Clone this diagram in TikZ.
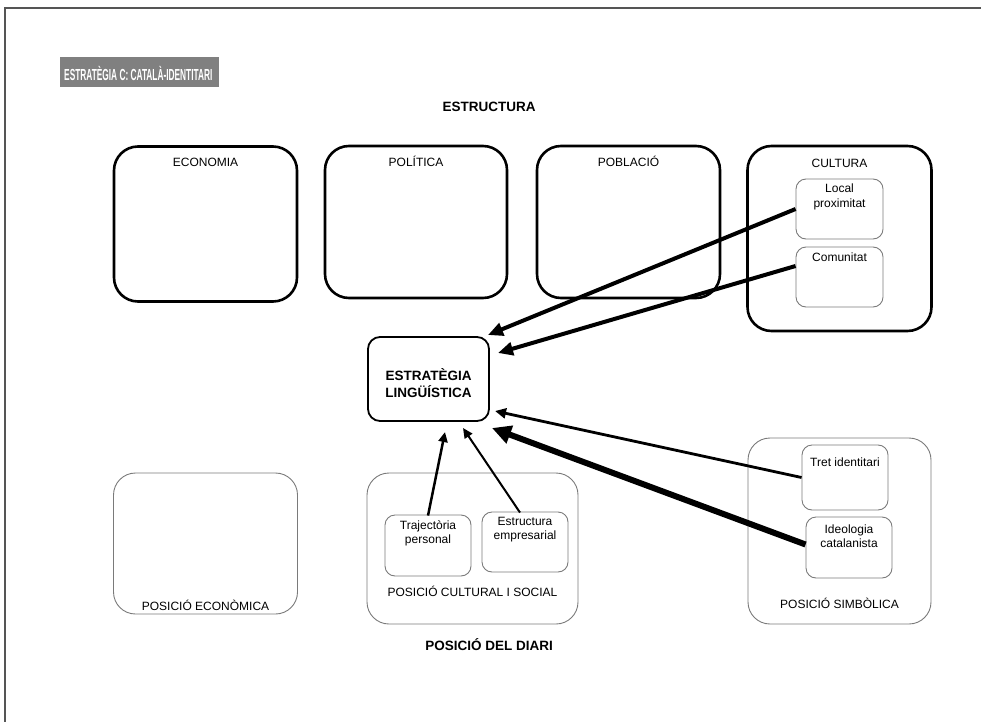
\documentclass[tikz,border=0pt]{standalone}
\usepackage{fontspec}
\setmainfont{Liberation Sans}
\usetikzlibrary{arrows.meta}
\definecolor{bargray}{HTML}{808080}
\definecolor{thingray}{HTML}{7A7A7A}
\definecolor{framegray}{HTML}{555555}
\begin{document}
\begin{tikzpicture}[x=1pt,y=-1pt,
  thickbox/.style={draw=black, line width=2.6pt, rounded corners=24pt, inner sep=0pt},
  midbox/.style={draw=black, line width=1.8pt, rounded corners=12pt, inner sep=0pt},
  thinbox/.style={draw=thingray, line width=0.9pt, rounded corners=22pt, inner sep=0pt},
  smallbox/.style={draw=thingray, line width=0.9pt, rounded corners=10pt, inner sep=0pt},
  lbl/.style={inner sep=0pt, align=center, font=\fontsize{12}{14.5}\selectfont},
  head/.style={inner sep=0pt, align=center, font=\fontsize{13.5}{17}\selectfont\bfseries},
  arr/.style={line width=#1}
]
\useasboundingbox (0,0) rectangle (981,722);
% page frame
\draw[line width=1.2pt, framegray] (981,8) -- (5,8) -- (5,722);
% title bar
\node[fill=bargray, minimum width=159pt, minimum height=30pt, anchor=north west, inner sep=0pt] (title) at (60,57) {};
\node[anchor=west, inner sep=0pt, text=white] (titletext) at (64,73)
  {\scalebox{0.52}[1]{\fontsize{16}{16}\selectfont\bfseries ESTRATÈGIA C: CATALÀ-IDENTITARI}};
\node[head] (estructura) at (489,107) {ESTRUCTURA};
% top boxes
\node[thickbox, minimum width=183pt, minimum height=155pt] (eco) at (205.5,224) {};
\node[thickbox, minimum width=182pt, minimum height=152pt] (pol) at (416,222) {};
\node[thickbox, minimum width=183pt, minimum height=152pt] (pob) at (628.5,222) {};
\node[thickbox, minimum width=184pt, minimum height=185pt] (cul) at (839.5,238.5) {};
\node[lbl] (ecol) at (205.5,162) {ECONOMIA};
\node[lbl] (poll) at (416,161) {POLÍTICA};
\node[lbl] (pobl) at (628.5,161) {POBLACIÓ};
\node[lbl] (cull) at (839.5,163) {CULTURA};
\node[smallbox, minimum width=87pt, minimum height=60pt] (loc) at (839.5,209) {};
\node[lbl] (locl) at (839.5,197) {Local\\proximitat};
\node[smallbox, minimum width=87pt, minimum height=60pt] (com) at (839.5,277) {};
\node[lbl] (coml) at (839.5,257) {Comunitat};
% central box
\node[midbox, minimum width=121pt, minimum height=84pt] (est) at (428.5,379) {};
\node[head] (estl) at (428.5,383.5) {ESTRATÈGIA\\LINGÜÍSTICA};
% bottom boxes
\node[thinbox, minimum width=184pt, minimum height=141pt] (peco) at (205.5,543.5) {};
\node[lbl] (pecol) at (205.5,605) {POSICIÓ ECONÒMICA};
\node[thinbox, minimum width=211pt, minimum height=151pt] (pcul) at (472.5,548.5) {};
\node[lbl] (pcull) at (472.5,591) {POSICIÓ CULTURAL I SOCIAL};
\node[smallbox, minimum width=86pt, minimum height=61pt] (traj) at (428,545.5) {};
\node[lbl] (trajl) at (428,533.5) {Trajectòria\\personal};
\node[smallbox, minimum width=86pt, minimum height=60pt] (estr) at (525,542) {};
\node[lbl] (estrl) at (525,529.5) {Estructura\\empresarial};
\node[thinbox, minimum width=183pt, minimum height=186pt] (psim) at (839.5,531) {};
\node[lbl] (psiml) at (839.5,603) {POSICIÓ SIMBÒLICA};
\node[smallbox, minimum width=86pt, minimum height=65pt] (tret) at (845,477.5) {};
\node[lbl] (tretl) at (845,462) {Tret identitari};
\node[smallbox, minimum width=86pt, minimum height=61pt] (ideo) at (849,547.5) {};
\node[lbl] (ideol) at (849,536) {Ideologia\\catalanista};
\node[head] (diari) at (489,645) {POSICIÓ DEL DIARI};
% arrow ends
\coordinate (t1) at (488,335);
\coordinate (t2) at (498,353);
\coordinate (t3) at (495,411);
\coordinate (t4) at (492,428);
\coordinate (t5) at (445,432);
\coordinate (t6) at (463,428);
% arrows
\draw[arr=4pt, -{Triangle[length=15pt,width=13pt]}] (loc.west) -- (t1);
\draw[arr=4pt, -{Triangle[length=15pt,width=13pt]}] ([yshift=11pt]com.west) -- (t2);
\draw[arr=2.8pt, -{Triangle[length=11pt,width=10pt]}] (tret.west) -- (t3);
\draw[arr=6pt, -{Triangle[length=19pt,width=18pt]}] ([yshift=3pt]ideo.west) -- (t4);
\draw[arr=2.5pt, -{Triangle[length=10pt,width=9pt]}] ([yshift=-1pt]traj.north) -- (t5);
\draw[arr=2pt, -{Triangle[length=10pt,width=9pt]}] ([xshift=-5pt,yshift=-1pt]estr.north) -- (t6);
\end{tikzpicture}
\end{document}
